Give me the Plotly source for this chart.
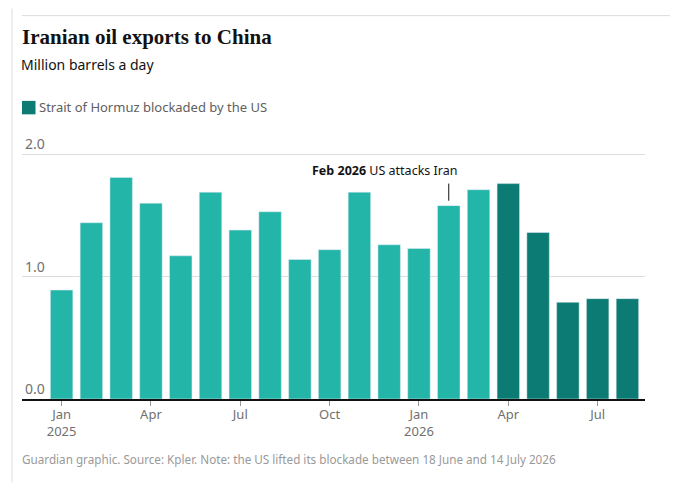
import plotly.graph_objects as go

months = ["Jan 2025", "Feb 2025", "Mar 2025", "Apr 2025", "May 2025", "Jun 2025",
          "Jul 2025", "Aug 2025", "Sep 2025", "Oct 2025", "Nov 2025", "Dec 2025",
          "Jan 2026", "Feb 2026", "Mar 2026", "Apr 2026", "May 2026", "Jun 2026",
          "Jul 2026", "Aug 2026"]
exports = [0.89, 1.44, 1.81, 1.60, 1.17, 1.69, 1.38, 1.53, 1.14, 1.22,
           1.69, 1.26, 1.23, 1.58, 1.71, 1.76, 1.36, 0.79, 0.82, 0.82]
# months from Apr 2026 on are during the blockade
blockade_start = 15

tick_vals = ["Jan 2025", "Apr 2025", "Jul 2025", "Oct 2025", "Jan 2026", "Apr 2026", "Jul 2026"]
tick_text = ["Jan<br>2025", "Apr", "Jul", "Oct", "Jan<br>2026", "Apr", "Jul"]
y_ticks = [0, 1, 2]
y_ticktext = ["0.0", "1.0", "2.0"]

light = "#22b5a8"
dark = "#0c7b73"
grey = "#707070"
font = "Noto Sans"

# the page puts the figure 8px in from the top left corner
OFF = 8
W, H = 693 - OFF, 483 - OFF
Y_TOP = 2.01
# page pixel positions of the plot area
left, right, bottom = 22, 645, 399.5
unit = (399.5 - 154) / 2.0
top = bottom - Y_TOP * unit
plot_h = bottom - top
plot_w = right - left


def py(y):
    return (bottom - y) / plot_h


def px_(x):
    return (x - left) / plot_w


fig = go.Figure()
fig.add_trace(go.Bar(x=months[:blockade_start], y=exports[:blockade_start],
                     marker_color=light, showlegend=False))
fig.add_trace(go.Bar(x=months[blockade_start:], y=exports[blockade_start:],
                     marker_color=dark, name="Strait of Hormuz blockaded by the US",
                     showlegend=False))

fig.update_layout(
    width=W, height=H,
    margin=dict(l=left - OFF, r=W - (right - OFF), t=top - OFF, b=H - (bottom - OFF), pad=0),
    plot_bgcolor="white", paper_bgcolor="white",
    bargap=0.245,
    font=dict(family=font, color=grey, size=13),
    title=dict(text="Iranian oil exports to China", x=(22 - OFF) / W, xanchor="left",
               xref="container", yref="container", y=1 - (37 - OFF) / H, yanchor="middle",
               font=dict(family="Liberation Serif", size=21, color="#121212", weight="bold")),
    showlegend=False,
)

fig.update_xaxes(type="category", range=[-1.33, 19.59], showgrid=False,
                 showline=True, linecolor="#121212", linewidth=1.5,
                 ticks="outside", ticklen=5, tickcolor="#999999", tickwidth=1,
                 tickmode="array", tickvals=tick_vals, ticktext=tick_text,
                 ticklabelstandoff=-2,
                 tickfont=dict(size=13, color=grey))
fig.update_yaxes(range=[0, Y_TOP], tickvals=y_ticks, ticktext=y_ticktext,
                 showgrid=True, gridcolor="#dcdcdc", gridwidth=1, zeroline=False,
                 ticks="", ticklabelposition="inside top", ticklabeloverflow="allow",
                 showline=False, tickfont=dict(size=14, color=grey))

fig.add_annotation(text="Million barrels a day", xref="paper", yref="paper",
                   x=0, y=py(64), xanchor="left", yanchor="middle", xshift=-3,
                   showarrow=False, font=dict(size=14, color="#121212"))

# legend key
fig.add_shape(type="rect", xref="paper", yref="paper", x0=px_(22), x1=px_(35.5),
              y0=py(114), y1=py(100.5), fillcolor=dark, line_width=0)
fig.add_annotation(text="Strait of Hormuz blockaded by the US", xref="paper", yref="paper",
                   x=px_(39), y=py(107), xanchor="left", yanchor="middle", xshift=-2,
                   showarrow=False, font=dict(size=13, color="#606060"))

fig.add_annotation(text="<b>Feb 2026</b> US attacks Iran", x="Feb 2026", y=1.865,
                   xanchor="right", yanchor="middle", xshift=10, showarrow=False,
                   font=dict(size=12.5, color="#121212"))
fig.add_shape(type="line", x0="Feb 2026", x1="Feb 2026", y0=1.62, y1=1.76,
              line=dict(color="#121212", width=1))
fig.add_annotation(text="Guardian graphic. Source: Kpler. Note: the US lifted its blockade between 18 June and 14 July 2026",
                   xref="paper", yref="paper", x=0, y=py(460),
                   xanchor="left", yanchor="middle", xshift=-2, showarrow=False,
                   font=dict(size=11.7, color="#999999"))

# top rule and left page border
fig.add_shape(type="line", xref="paper", yref="paper", x0=0, x1=px_(670),
              y0=py(15), y1=py(15), line=dict(color="#dcdcdc", width=1))
fig.add_shape(type="line", xref="paper", yref="paper", x0=px_(12), x1=px_(12),
              y0=py(483), y1=py(OFF), line=dict(color="#dcdcdc", width=1))

fig.write_html("out.html")
